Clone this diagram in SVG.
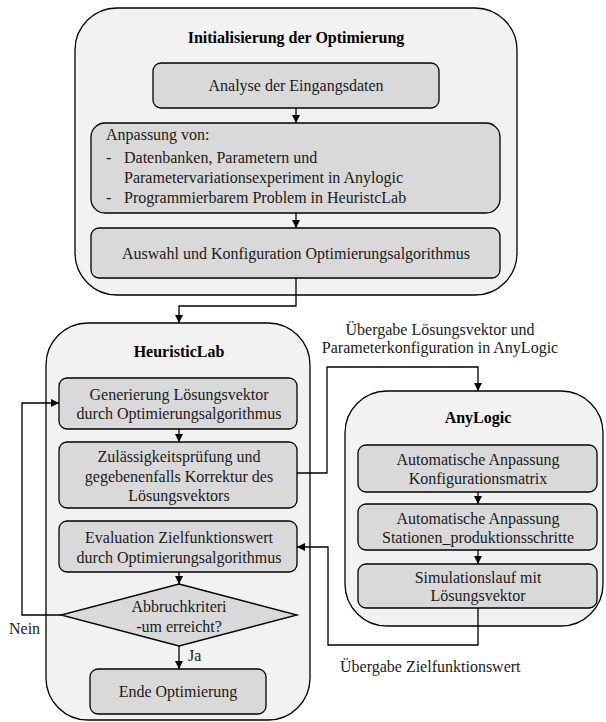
<svg xmlns="http://www.w3.org/2000/svg" width="606" height="722" viewBox="0 0 606 722">
<style>
.grp{fill:#f2f2f2;stroke:#000;stroke-width:1.3}
.box{fill:#d9d9d9;stroke:#000;stroke-width:1.3}
.t{font-family:"Liberation Serif","Times New Roman",serif;font-size:16px;fill:#1a1a1a;text-anchor:middle}
.ts{font-family:"Liberation Serif","Times New Roman",serif;font-size:16px;fill:#1a1a1a}
.b{font-weight:bold;fill:#000}
.c{fill:none;stroke:#000;stroke-width:1.3}
</style>
<defs>
<marker id="a" viewBox="0 0 10 10" refX="10" refY="5" markerWidth="8" markerHeight="8" markerUnits="userSpaceOnUse" orient="auto">
<path d="M0,0 L10,5 L0,10 z" fill="#000"/>
</marker>
</defs>
<rect width="606" height="722" fill="#fff"/>
<g id="init">
<rect class="grp" x="75" y="8" width="442" height="287" rx="42"/>
<text class="t b" x="296" y="43">Initialisierung der Optimierung</text>
</g>
<g id="analyse">
<rect class="box" x="153" y="63" width="286" height="45" rx="8"/>
<text class="t" x="296" y="91">Analyse der Eingangsdaten</text>
</g>
<g id="anpassung">
<rect class="box" x="91" y="123" width="409" height="90" rx="14"/>
<text class="ts" x="106" y="140">Anpassung von:</text>
<text class="ts" x="106" y="163">-</text>
<text class="ts" x="124" y="163">Datenbanken, Parametern und</text>
<text class="ts" x="124" y="183">Parametervariationsexperiment in Anylogic</text>
<text class="ts" x="106" y="203">-</text>
<text class="ts" x="124" y="203">Programmierbarem Problem in HeuristcLab</text>
</g>
<g id="auswahl">
<rect class="box" x="91" y="228" width="409" height="50" rx="8"/>
<text class="t" x="296" y="259">Auswahl und Konfiguration Optimierungsalgorithmus</text>
</g>
<g id="heuristiclab">
<rect class="grp" x="46" y="323" width="264" height="397" rx="42"/>
<text class="t b" x="179" y="357">HeuristicLab</text>
</g>
<g id="generierung">
<rect class="box" x="59" y="378" width="238" height="51" rx="8"/>
<text class="t" x="179" y="400">Generierung Lösungsvektor</text>
<text class="t" x="179" y="419">durch Optimierungsalgorithmus</text>
</g>
<g id="zulaessigkeit">
<rect class="box" x="59" y="442" width="238" height="66" rx="8"/>
<text class="t" x="179" y="462">Zulässigkeitsprüfung und</text>
<text class="t" x="179" y="482">gegebenenfalls Korrektur des</text>
<text class="t" x="179" y="501">Lösungsvektors</text>
</g>
<g id="evaluation">
<rect class="box" x="59" y="521" width="238" height="51" rx="8"/>
<text class="t" x="179" y="543">Evaluation Zielfunktionswert</text>
<text class="t" x="179" y="563">durch Optimierungsalgorithmus</text>
</g>
<g id="abbruch">
<polygon class="box" points="179,584 297,615 179,646 61,615"/>
<text class="t" x="179" y="612">Abbruchkriteri</text>
<text class="t" x="179" y="632">-um erreicht?</text>
</g>
<g id="ende">
<rect class="box" x="90" y="669" width="176" height="45" rx="8"/>
<text class="t" x="178" y="697">Ende Optimierung</text>
</g>
<g id="anylogic">
<rect class="grp" x="345" y="391" width="258" height="235" rx="42"/>
<text class="t b" x="478" y="423">AnyLogic</text>
</g>
<g id="konfig">
<rect class="box" x="358" y="445" width="239" height="47" rx="8"/>
<text class="t" x="478" y="465">Automatische Anpassung</text>
<text class="t" x="478" y="484">Konfigurationsmatrix</text>
</g>
<g id="stationen">
<rect class="box" x="358" y="504" width="239" height="46" rx="8"/>
<text class="t" x="478" y="524">Automatische Anpassung</text>
<text class="t" x="478" y="543">Stationen_produktionsschritte</text>
</g>
<g id="simulation">
<rect class="box" x="358" y="564" width="239" height="44" rx="8"/>
<text class="t" x="478" y="583">Simulationslauf mit</text>
<text class="t" x="478" y="601">Lösungsvektor</text>
</g>
<g id="connectors">
<path class="c" d="M296,108 V123" marker-end="url(#a)"/>
<path class="c" d="M296,213 V228" marker-end="url(#a)"/>
<path class="c" d="M296,278 V306 H179 V323" marker-end="url(#a)"/>
<path class="c" d="M179,429 V442" marker-end="url(#a)"/>
<path class="c" d="M179,572 V584" marker-end="url(#a)"/>
<path class="c" d="M179,646 V669" marker-end="url(#a)"/>
<path class="c" d="M61,615 H22 V403 H59" marker-end="url(#a)"/>
<path class="c" d="M297,473 H327 V367 H478 V391" marker-end="url(#a)"/>
<path class="c" d="M478,492 V504" marker-end="url(#a)"/>
<path class="c" d="M478,550 V564" marker-end="url(#a)"/>
<path class="c" d="M478,608 V645 H328 V547 H297" marker-end="url(#a)"/>
<text class="ts" x="9" y="634">Nein</text>
<text class="ts" x="188" y="661">Ja</text>
<text class="t" x="440" y="335">Übergabe Lösungsvektor und</text>
<text class="t" x="440" y="353">Parameterkonfiguration in AnyLogic</text>
<text class="ts" x="340" y="672">Übergabe Zielfunktionswert</text>
</g>
</svg>
